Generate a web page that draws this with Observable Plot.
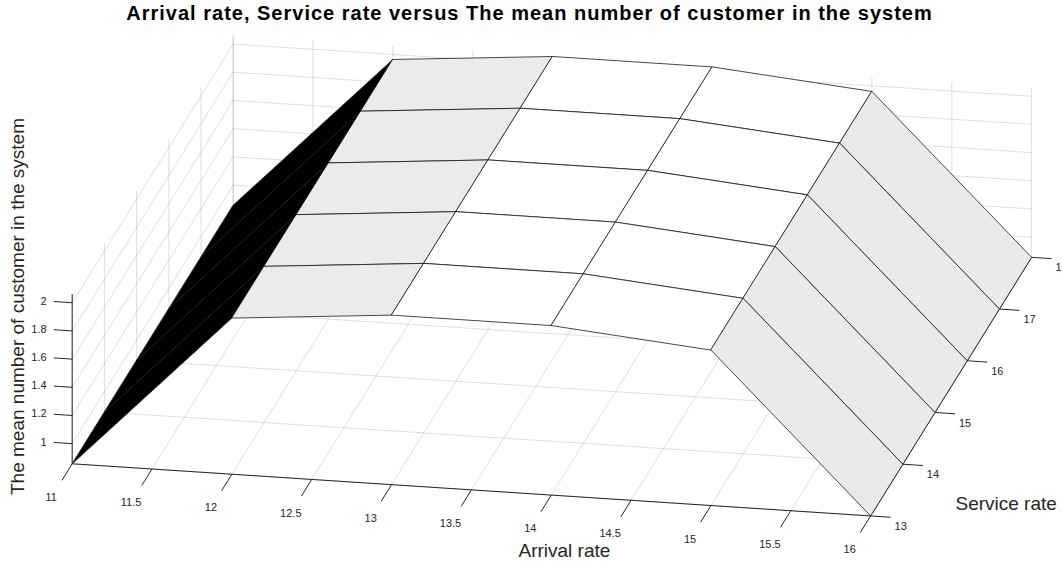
<!DOCTYPE html>
<html>
<head>
<meta charset="utf-8">
<script src="https://cdn.jsdelivr.net/npm/d3@7"></script>
<script src="https://cdn.jsdelivr.net/npm/@observablehq/plot@0.6"></script>
<style>
  body { margin: 0; background: #fff; }
  #chart svg { display: block; }
  #chart svg .chart-title { letter-spacing: 1px; }
</style>
</head>
<body>
<div id="chart"></div>
<script>
// ---- data -------------------------------------------------------------
const arrivalRates = [11, 12, 13, 14, 15, 16];
const serviceRates = [13, 14, 15, 16, 17, 18];
// one row per service rate, one column per arrival rate
const meanCustomers = [
  [0.857, 1.965, 2.060, 2.060, 1.960, 0.857],
  [0.857, 1.965, 2.060, 2.060, 1.960, 0.857],
  [0.857, 1.965, 2.060, 2.060, 1.960, 0.857],
  [0.857, 1.965, 2.060, 2.060, 1.960, 0.857],
  [0.857, 1.965, 2.060, 2.060, 1.960, 0.857],
  [0.857, 1.965, 2.060, 2.060, 1.960, 0.857]
];
const arrivalTicks = [11, 11.5, 12, 12.5, 13, 13.5, 14, 14.5, 15, 15.5, 16];
const serviceTicks = [13, 14, 15, 16, 17, 18];
const customerTicks = [1, 1.2, 1.4, 1.6, 1.8, 2];

const titleText = "Arrival rate, Service rate versus The mean number of customer in the system";
const xLabelText = "Arrival rate";
const yLabelText = "Service rate";
const zLabelText = "The mean number of customer in the system";

// ---- 3-D view (orthographic, azimuth / elevation in degrees) ----------
const azimuth = 11.4, elevation = 18.9;
const boxAspect = [1, 1, 0.22];
const xLim = d3.extent(arrivalRates);
const yLim = d3.extent(serviceRates);
const zLim = d3.extent(meanCustomers.flat());

const ca = Math.cos(azimuth * Math.PI / 180), sa = Math.sin(azimuth * Math.PI / 180);
const ce = Math.cos(elevation * Math.PI / 180), se = Math.sin(elevation * Math.PI / 180);

function project(a, m, z) {
  const nx = (a - xLim[0]) / (xLim[1] - xLim[0]) * boxAspect[0];
  const ny = (m - yLim[0]) / (yLim[1] - yLim[0]) * boxAspect[1];
  const nz = (z - zLim[0]) / (zLim[1] - zLim[0]) * boxAspect[2];
  return {
    u: ca * nx + sa * ny,
    v: -se * sa * nx + se * ca * ny + ce * nz,
    w: sa * ce * nx - ca * ce * ny + se * nz // towards the viewer
  };
}
function segment(p, q) {
  const a = project(...p), b = project(...q);
  return {u1: a.u, v1: a.v, u2: b.u, v2: b.v};
}

// ---- surface patches, painted back to front ---------------------------
const faces = [];
for (let j = 0; j < serviceRates.length - 1; ++j) {
  for (let i = 0; i < arrivalRates.length - 1; ++i) {
    const corners = [[i, j], [i + 1, j], [i + 1, j + 1], [i, j + 1]]
      .map(([a, b]) => project(arrivalRates[a], serviceRates[b], meanCustomers[b][a]));
    faces.push({corners, c: meanCustomers[j][i], depth: d3.mean(corners, d => d.w)});
  }
}
faces.sort((a, b) => a.depth - b.depth);
const facePoints = faces.flatMap((f, k) => f.corners.map(p => ({face: k, u: p.u, v: p.v, c: f.c})));

// ---- grid lines on the floor and the two back walls --------------------
const z0 = zLim[0], z1 = zLim[1];
const x0 = xLim[0], x1 = xLim[1], y0 = yLim[0], y1 = yLim[1];
const grid = [
  ...arrivalTicks.map(a => segment([a, y0, z0], [a, y1, z0])),
  ...serviceTicks.map(m => segment([x0, m, z0], [x1, m, z0])),
  ...arrivalTicks.map(a => segment([a, y1, z0], [a, y1, z1])),
  ...customerTicks.map(z => segment([x0, y1, z], [x1, y1, z])),
  ...serviceTicks.map(m => segment([x0, m, z0], [x0, m, z1])),
  ...customerTicks.map(z => segment([x0, y0, z], [x0, y1, z]))
];

// ---- axes ---------------------------------------------------------------
const axisLines = [
  segment([x0, y0, z0], [x1, y0, z0]),
  segment([x1, y0, z0], [x1, y1, z0]),
  segment([x0, y0, z0], [x0, y0, z1])
];
const tickMarks = [
  ...arrivalTicks.map(a => segment([a, y0, z0], [a, y0 - 0.32, z0])),
  ...serviceTicks.map(m => segment([x1, m, z0], [x1 + 0.125, m, z0])),
  ...customerTicks.map(z => segment([x0, y0, z], [x0 - 0.115, y0, z]))
];
const xTickLabels = arrivalTicks.map(a => ({...project(a, y0 - 0.65, z0), t: String(a)}));
const yTickLabels = serviceTicks.map(m => ({...project(x1 + 0.15, m, z0), t: String(m)}));
const zTickLabels = customerTicks.map(z => ({...project(x0 - 0.16, y0, z), t: String(z)}));
const axisTitles = [
  {...project(14.29, 11.97, z0), t: xLabelText, r: 0},
  {...project(16.77, 13.39, z0), t: yLabelText, r: 0},
  {...project(x0 - 0.3425, y0, 1.948), t: zLabelText, r: -90}
];

const ink = "#262626";
const scale = 814.5, originX = 71.7, originY = 463.3;

const chart = Plot.plot({
  width: 1062,
  height: 565,
  margin: 0,
  style: {fontFamily: "'Liberation Sans', Arial, Helvetica, sans-serif", background: "#fff", color: ink},
  x: {type: "linear", domain: [0, 1], range: [originX, originX + scale], axis: null},
  y: {type: "linear", domain: [0, 1], range: [originY, originY - scale], axis: null},
  color: {type: "linear", domain: zLim, range: ["#000", "#fff"], interpolate: "rgb"},
  marks: [
    Plot.link(grid, {x1: "u1", y1: "v1", x2: "u2", y2: "v2", stroke: ink, strokeOpacity: 0.15, strokeWidth: 1}),
    Plot.link(axisLines, {x1: "u1", y1: "v1", x2: "u2", y2: "v2", stroke: ink, strokeWidth: 1}),
    Plot.link(tickMarks, {x1: "u1", y1: "v1", x2: "u2", y2: "v2", stroke: ink, strokeWidth: 1}),
    Plot.line(facePoints, {x: "u", y: "v", z: "face", fill: "c", stroke: "#1a1a1a", strokeWidth: 0.8, curve: "linear-closed"}),
    Plot.text(xTickLabels, {x: "u", y: "v", text: "t", fontSize: 11, fill: ink}),
    Plot.text(yTickLabels, {x: "u", y: "v", text: "t", fontSize: 11, fill: ink, textAnchor: "start", dy: 9}),
    Plot.text(zTickLabels, {x: "u", y: "v", text: "t", fontSize: 11, fill: ink, textAnchor: "end"}),
    Plot.text(axisTitles, {x: "u", y: "v", text: "t", rotate: "r", fontSize: 19, fill: ink}),
    Plot.text([titleText], {frameAnchor: "top", lineAnchor: "middle", dx: -2, dy: 13, fontSize: 20, fontWeight: "bold", fill: "#000", className: "chart-title"})
  ]
});
document.getElementById("chart").append(chart);
</script>
</body>
</html>
